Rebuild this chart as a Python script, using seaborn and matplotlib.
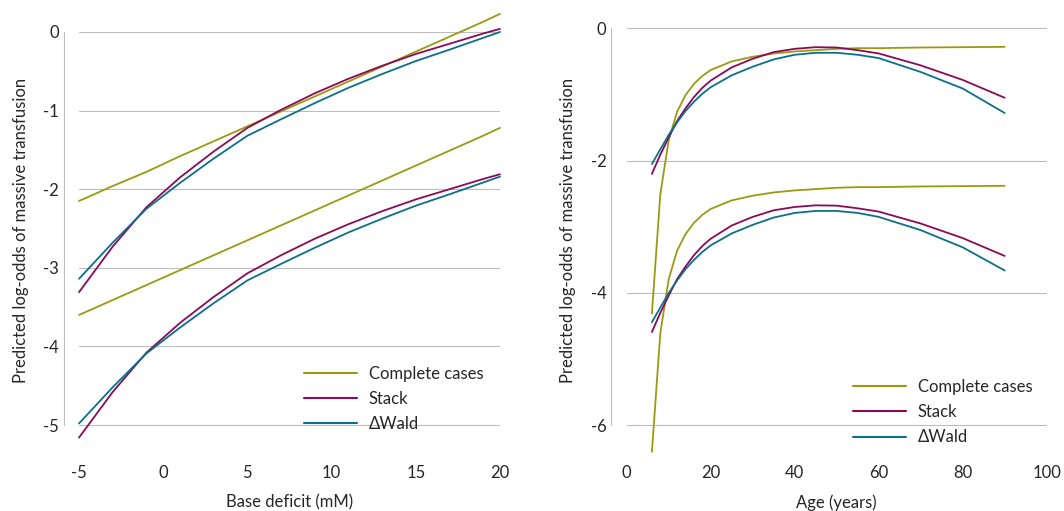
import numpy as np
import pandas as pd
import matplotlib
matplotlib.use('Agg')
import matplotlib.pyplot as plt
import seaborn as sns

# Dữ liệu: base deficit (trái) và age (phải)
methods = ['Complete cases', 'Stack', '\u0394Wald']
colors = ['#9a9a12', '#8a0a58', '#0b6f8c']

bd_x = [-5, -3, -1, 1, 3, 5, 7, 9, 11, 13, 15, 17, 19, 20]
bd_cc_hi = [-2.15, -1.96, -1.78, -1.58, -1.39, -1.20, -1.01, -0.82, -0.63, -0.44, -0.25, -0.06, 0.13, 0.23]
bd_cc_lo = [-3.60, -3.41, -3.22, -3.03, -2.84, -2.65, -2.46, -2.27, -2.08, -1.89, -1.70, -1.51, -1.32, -1.22]
bd_stack_hi = [-3.31, -2.73, -2.23, -1.85, -1.52, -1.22, -0.99, -0.78, -0.595, -0.43, -0.28, -0.15, -0.02, 0.04]
bd_stack_lo = [-5.16, -4.58, -4.08, -3.70, -3.37, -3.07, -2.84, -2.63, -2.445, -2.28, -2.13, -2.00, -1.87, -1.81]
bd_wald_hi = [-3.14, -2.68, -2.25, -1.92, -1.61, -1.32, -1.11, -0.905, -0.71, -0.535, -0.37, -0.225, -0.075, 0.0]
bd_wald_lo = [-4.98, -4.52, -4.09, -3.76, -3.45, -3.16, -2.95, -2.745, -2.55, -2.375, -2.21, -2.065, -1.915, -1.84]

age_x = [6, 8, 10, 12, 14, 16, 18, 20, 25, 30, 35, 40, 45, 50, 55, 60, 70, 80, 90]
age_cc_hi = [-4.31, -2.51, -1.69, -1.26, -1.01, -0.84, -0.72, -0.63, -0.50, -0.43, -0.38, -0.35, -0.33,
             -0.31, -0.30, -0.30, -0.29, -0.285, -0.28]
age_cc_lo = [-6.40, -4.61, -3.79, -3.36, -3.11, -2.94, -2.82, -2.73, -2.60, -2.53, -2.48, -2.45, -2.43,
             -2.41, -2.40, -2.40, -2.39, -2.385, -2.38]
age_stack_hi = [-2.20, -1.91, -1.65, -1.40, -1.21, -1.04, -0.90, -0.79, -0.59, -0.46, -0.36, -0.31, -0.285,
                -0.29, -0.33, -0.38, -0.56, -0.78, -1.05]
age_stack_lo = [-4.59, -4.30, -4.04, -3.79, -3.60, -3.43, -3.29, -3.18, -2.98, -2.85, -2.75, -2.70, -2.675,
                -2.68, -2.72, -2.77, -2.95, -3.17, -3.44]
age_wald_hi = [-2.05, -1.83, -1.61, -1.42, -1.25, -1.11, -0.99, -0.89, -0.71, -0.58, -0.47, -0.40, -0.37,
               -0.37, -0.40, -0.45, -0.66, -0.91, -1.28]
age_wald_lo = [-4.44, -4.22, -4.00, -3.81, -3.64, -3.50, -3.38, -3.28, -3.10, -2.97, -2.86, -2.79, -2.76,
               -2.76, -2.79, -2.85, -3.05, -3.31, -3.66]

bd_ticks = [-5, 0, 5, 10, 15, 20]
bd_yticks = [-5, -4, -3, -2, -1, 0]
age_ticks = [0, 20, 40, 60, 80, 100]
age_yticks = [-6, -4, -2, 0]


def make_long(x, series):
    """Gom các chuỗi thành bảng dài cho seaborn"""
    rows = []
    for method, level, ys in series:
        for xi, yi in zip(x, ys):
            rows.append({'x': xi, 'y': yi, 'method': method, 'level': level})
    return pd.DataFrame(rows)


bd_df = make_long(bd_x, [
    (methods[0], 'hi', bd_cc_hi), (methods[0], 'lo', bd_cc_lo),
    (methods[1], 'hi', bd_stack_hi), (methods[1], 'lo', bd_stack_lo),
    (methods[2], 'hi', bd_wald_hi), (methods[2], 'lo', bd_wald_lo),
])
age_df = make_long(age_x, [
    (methods[0], 'hi', age_cc_hi), (methods[0], 'lo', age_cc_lo),
    (methods[1], 'hi', age_stack_hi), (methods[1], 'lo', age_stack_lo),
    (methods[2], 'hi', age_wald_hi), (methods[2], 'lo', age_wald_lo),
])

sns.set_style('white')
plt.rcParams['font.family'] = ['Lato', 'DejaVu Sans']
plt.rcParams['axes.unicode_minus'] = False
plt.rcParams['font.size'] = 12

fig = plt.figure(figsize=(10.64, 5.11), dpi=100)
ax1 = fig.add_axes([79 / 1064, 58 / 511, 421 / 1064, 445 / 511])
ax2 = fig.add_axes([626.7 / 1064, 58 / 511, 420 / 1064, 445 / 511])

palette = dict(zip(methods, colors))


def draw_panel(ax, df, xlim, ylim, xticks, yticks, xlabel, leg_anchor):
    sns.lineplot(data=df, x='x', y='y', hue='method', units='level', estimator=None,
                 sort=False, palette=palette, hue_order=methods, linewidth=1.3, ax=ax)
    for line in ax.lines:
        line.set_clip_on(False)
    ax.set_xlim(*xlim)
    ax.set_ylim(*ylim)
    ax.set_xticks(xticks)
    ax.set_yticks(yticks)
    ax.set_xticklabels([str(t) for t in xticks])
    ax.set_yticklabels([str(t) for t in yticks])
    # chỉ có lưới ngang
    for yt in yticks:
        ax.axhline(yt, color='#bdbdbd', linewidth=0.8, zorder=0)
    for side in ['top', 'right', 'bottom']:
        ax.spines[side].set_visible(False)
    ax.spines['left'].set_position(('outward', 11))
    ax.spines['left'].set_bounds(min(yticks), max(yticks))
    ax.spines['left'].set_color('#bdbdbd')
    ax.spines['left'].set_linewidth(0.8)
    ax.tick_params(axis='both', length=0, labelsize=12)
    ax.tick_params(axis='x', pad=8.5)
    ax.tick_params(axis='y', pad=3.5)
    ax.set_xlabel(xlabel, fontsize=12, labelpad=10)
    ax.set_ylabel('Predicted log-odds of massive transfusion', fontsize=12, labelpad=10.5)
    handles, labels = ax.get_legend_handles_labels()
    ax.legend(handles[:3], labels[:3], loc='upper left', bbox_to_anchor=leg_anchor,
              frameon=False, fontsize=12, handlelength=3.2, handletextpad=0.7,
              labelspacing=0.55, borderpad=0, borderaxespad=0)
    for lh in ax.get_legend().get_lines():
        lh.set_linewidth(1.5)


draw_panel(ax1, bd_df, (-5, 20), (-5.356, 0.305), bd_ticks, bd_yticks,
           'Base deficit (mM)', (0.534, 0.196))
draw_panel(ax2, age_df, (0, 100), (-6.418, 0.307), age_ticks, age_yticks,
           'Age (years)', (0.538, 0.166))

fig.savefig('out.png', dpi=100)
plt.close(fig)
